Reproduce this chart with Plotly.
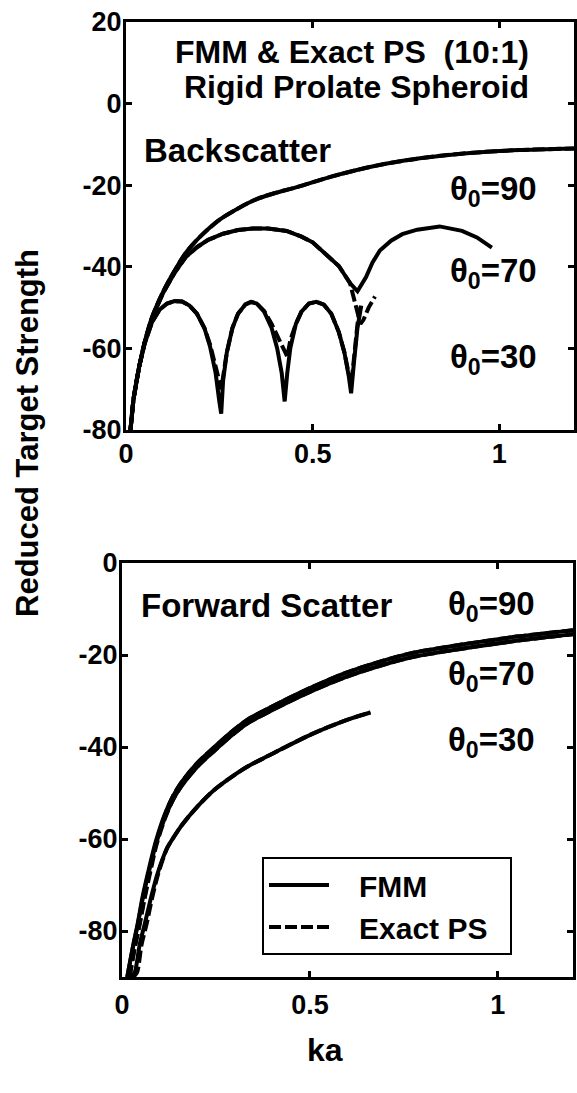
import plotly.graph_objects as go

W, H = 577, 1093

# ---------------- Backscatter (top panel) ----------------
bs90_ka = [0.012, 0.02, 0.035, 0.05, 0.07, 0.1, 0.13, 0.16, 0.2, 0.25, 0.3, 0.35,
           0.4, 0.46, 0.55, 0.65, 0.75, 0.85, 0.95, 1.05, 1.2]
bs90_ts = [-80, -72.5, -64.6, -58.5, -52.3, -46, -41, -36.6, -32.5, -28.5, -25.7, -23.4,
           -21.9, -20.4, -17.9, -15.6, -13.9, -12.7, -11.9, -11.4, -11.0]

bs70_ka = [0.012, 0.02, 0.035, 0.05, 0.07, 0.1, 0.13, 0.16, 0.19, 0.22, 0.26, 0.3,
           0.34, 0.38, 0.43, 0.47, 0.5, 0.54, 0.57, 0.6, 0.62, 0.643, 0.66, 0.68,
           0.71, 0.74, 0.78, 0.84, 0.9, 0.94, 0.98]
bs70_fmm = [-80, -72.5, -64.6, -58.5, -52.5, -46.3, -41.5, -37.6, -35.2, -33.4, -31.9, -31.0,
            -30.6, -30.6, -31.2, -32.6, -34.0, -37.3, -39.8, -44.0, -46.0, -42.5, -39.0, -36.0,
            -33.6, -32.0, -30.9, -30.1, -31.2, -32.8, -35.3]

bs70x_ka = [0.012, 0.02, 0.035, 0.05, 0.07, 0.1, 0.13, 0.16, 0.19, 0.22, 0.26, 0.3,
            0.34, 0.38, 0.43, 0.47, 0.5, 0.54, 0.57, 0.6, 0.61, 0.62, 0.628, 0.636,
            0.65, 0.667]
bs70_exact = [-80, -72.5, -64.6, -58.5, -52.5, -46.3, -41.5, -37.6, -35.2, -33.4, -31.9, -31.0,
              -30.6, -30.6, -31.2, -32.6, -34.0, -37.3, -39.8, -44.0, -47.5, -51.5, -54.0, -53.0,
              -50.0, -47.3]

bs30_ka = [0.012, 0.02, 0.035, 0.05, 0.07, 0.09, 0.11, 0.13, 0.15, 0.17, 0.19, 0.21,
           0.225, 0.24, 0.25, 0.255, 0.26, 0.27, 0.285, 0.3, 0.32, 0.335, 0.35, 0.37,
           0.39, 0.405, 0.417, 0.425, 0.432, 0.44, 0.455, 0.47, 0.49, 0.51, 0.53, 0.55,
           0.57, 0.585, 0.597, 0.603, 0.61, 0.62, 0.63]
bs30_fmm = [-80, -72.5, -64.6, -58.8, -53.5, -50.5, -49.0, -48.4, -48.5, -49.5, -51.5, -55.0,
            -59.5, -66.0, -73.0, -76.0, -68.0, -61.0, -55.0, -51.5, -49.2, -48.6, -49.0, -51.0,
            -55.0, -60.0, -66.0, -73.0, -66.0, -60.0, -54.0, -51.0, -49.0, -48.6, -49.3, -51.5,
            -56.0, -61.0, -67.0, -71.0, -64.0, -55.0, -49.5]
bs30_exact = [-80, -72.5, -64.6, -58.8, -53.5, -50.5, -49.0, -48.4, -48.5, -49.5, -51.5, -55.0,
              -59.0, -64.0, -68.0, -70.0, -67.0, -61.0, -55.0, -51.5, -49.2, -48.6, -49.0, -50.8,
              -54.0, -57.0, -59.5, -61.0, -62.0, -58.0, -54.0, -51.0, -49.0, -48.6, -49.3, -51.5,
              -56.0, -61.0, -66.0, -69.0, -63.0, -54.0, -49.0]

# ---------------- Forward scatter (bottom panel) ----------------
fs90_ka = [0.014, 0.03, 0.042, 0.055, 0.069, 0.09, 0.114, 0.135, 0.159, 0.2, 0.246, 0.29,
           0.333, 0.38, 0.423, 0.5, 0.595, 0.68, 0.77, 0.86, 0.947, 1.05, 1.2]
fs90_ts = [-90, -83, -78.3, -72.5, -67.4, -60.5, -54.6, -50.8, -47.6, -43.5, -40.0, -36.8,
           -34.1, -32.0, -30.2, -27.2, -23.9, -21.6, -19.6, -18.3, -17.2, -16.0, -14.6]
fs70_ts = [-90, -83.2, -78.6, -73.0, -68.0, -61.2, -55.4, -51.6, -48.4, -44.3, -40.8, -37.6,
           -34.9, -32.8, -31.0, -28.0, -24.8, -22.5, -20.5, -19.2, -18.1, -16.9, -15.5]
fs_exact_ka = [0.02, 0.035, 0.047, 0.06, 0.073, 0.092, 0.115, 0.135, 0.159, 0.2, 0.246, 0.29,
               0.333, 0.38, 0.423, 0.5, 0.595, 0.68, 0.77, 0.86, 0.947, 1.05, 1.2]

fs30_ka = [0.025, 0.034, 0.047, 0.061, 0.078, 0.095, 0.12, 0.14, 0.159, 0.2, 0.246, 0.29,
           0.333, 0.38, 0.423, 0.505, 0.595, 0.661]
fs30_ts = [-90, -89, -83, -78.3, -72.5, -67.4, -62.0, -59.3, -57.0, -53.0, -49.3, -46.6,
           -44.3, -42.3, -40.5, -37.2, -34.2, -32.5]
fs30x_ka = [0.03, 0.04, 0.052, 0.066, 0.081, 0.097, 0.12, 0.14, 0.159, 0.2, 0.246, 0.29,
            0.333, 0.38, 0.423, 0.505, 0.595, 0.661]

# ---------------- Axis ticks ----------------
x_ticks = [0, 0.5, 1]
x_ticktext = ["0", "0.5", "1"]
y1_ticks = [20, 0, -20, -40, -60, -80]
y2_ticks = [0, -20, -40, -60, -80]

FONT = "Liberation Sans, Arial, Helvetica, sans-serif"
LW = 4.0
DASH = "12px,4px"
NB = "\u00a0"


def px(x):
    return x / W


def py(y):
    return 1 - y / H


fig = go.Figure()


def add_line(x, y, axes, dash="solid", name=None, legend=False, smooth=False):
    line = dict(color="black", width=LW, dash=dash)
    if smooth:
        line.update(shape="spline", smoothing=0.8)
    fig.add_trace(go.Scatter(
        x=x, y=y, mode="lines", xaxis=axes[0], yaxis=axes[1],
        line=line, name=name, showlegend=legend, hoverinfo="skip"))


top = ("x", "y")
bot = ("x2", "y2")

# backscatter curves
add_line(bs90_ka, bs90_ts, top, smooth=True)
add_line(bs70_ka, bs70_fmm, top)
add_line(bs30_ka, bs30_fmm, top)
add_line(bs90_ka, bs90_ts, top, dash=DASH, smooth=True)
add_line(bs70x_ka, bs70_exact, top, dash=DASH)
add_line(bs30_ka, bs30_exact, top, dash=DASH)

# forward scatter curves
add_line(fs90_ka, fs90_ts, bot, name=NB * 3 + "FMM", legend=True, smooth=True)
add_line(fs90_ka, fs70_ts, bot, smooth=True)
add_line(fs30_ka, fs30_ts, bot, smooth=True)
add_line(fs_exact_ka, fs90_ts, bot, dash=DASH, name=NB * 3 + "Exact PS" + NB * 2,
         legend=True, smooth=True)
add_line(fs_exact_ka, fs70_ts, bot, dash=DASH, smooth=True)
add_line(fs30x_ka, fs30_ts, bot, dash=DASH, smooth=True)

tickfont = dict(family=FONT, size=27, color="black", weight="bold")
axis_common = dict(
    showline=True, linewidth=3, linecolor="black", mirror="allticks",
    ticks="inside", ticklen=6, tickwidth=2.5, tickcolor="black",
    showgrid=False, zeroline=False, tickfont=tickfont, fixedrange=True,
    automargin=False,
)

fig.update_layout(
    width=W, height=H, autosize=False,
    margin=dict(l=0, r=0, t=0, b=0, pad=0),
    paper_bgcolor="white", plot_bgcolor="white",
    xaxis=dict(domain=[px(126), px(574)], range=[0, 1.2], anchor="y",
               tickvals=x_ticks, ticktext=x_ticktext, ticklabelstandoff=-2, **axis_common),
    yaxis=dict(domain=[py(430), py(22)], range=[-80, 20], anchor="x",
               tickvals=y1_ticks, ticktext=[str(v) for v in y1_ticks],
               ticklabelstandoff=-4, **axis_common),
    xaxis2=dict(domain=[px(122), px(573)], range=[0, 1.2], anchor="y2",
                tickvals=x_ticks, ticktext=x_ticktext, ticklabelstandoff=2, **axis_common),
    yaxis2=dict(domain=[py(977), py(563)], range=[-90, 0], anchor="x2",
                tickvals=y2_ticks, ticktext=[str(v) for v in y2_ticks],
                ticklabelstandoff=-4, **axis_common),
    legend=dict(
        x=px(262), y=py(857), xanchor="left", yanchor="top",
        bgcolor="white", bordercolor="black", borderwidth=2,
        font=dict(family=FONT, size=30, color="black", weight="bold"),
        itemwidth=60, tracegroupgap=0,
    ),
)

label_font = dict(family=FONT, size=32, color="black", weight="bold")


def note(text, x, y, xanchor="left", size=32, angle=0):
    f = dict(label_font)
    f["size"] = size
    fig.add_annotation(text=text, x=px(x), y=py(y), xref="paper", yref="paper",
                       xanchor=xanchor, yanchor="middle", showarrow=False,
                       font=f, textangle=angle)


note("FMM & Exact PS " + NB + "(10:1)", 352, 52, xanchor="center", size=32)
note("Rigid Prolate Spheroid", 356, 87, xanchor="center", size=32)
note("Backscatter", 142, 150, size=33)
note("\u03b8<sub>0</sub>=90", 448, 191, size=33)
note("\u03b8<sub>0</sub>=70", 448, 273, size=33)
note("\u03b8<sub>0</sub>=30", 448, 359, size=33)

note("Forward Scatter", 139, 605, size=33)
note("\u03b8<sub>0</sub>=90", 446, 606, size=33)
note("\u03b8<sub>0</sub>=70", 446, 676, size=33)
note("\u03b8<sub>0</sub>=30", 446, 742, size=33)

note("ka", 325, 1050, xanchor="center")
note("Reduced Target Strength", 27, 433, xanchor="center", angle=-90, size=31)

fig.write_html("out.html", post_script="document.body.style.margin='0';")
